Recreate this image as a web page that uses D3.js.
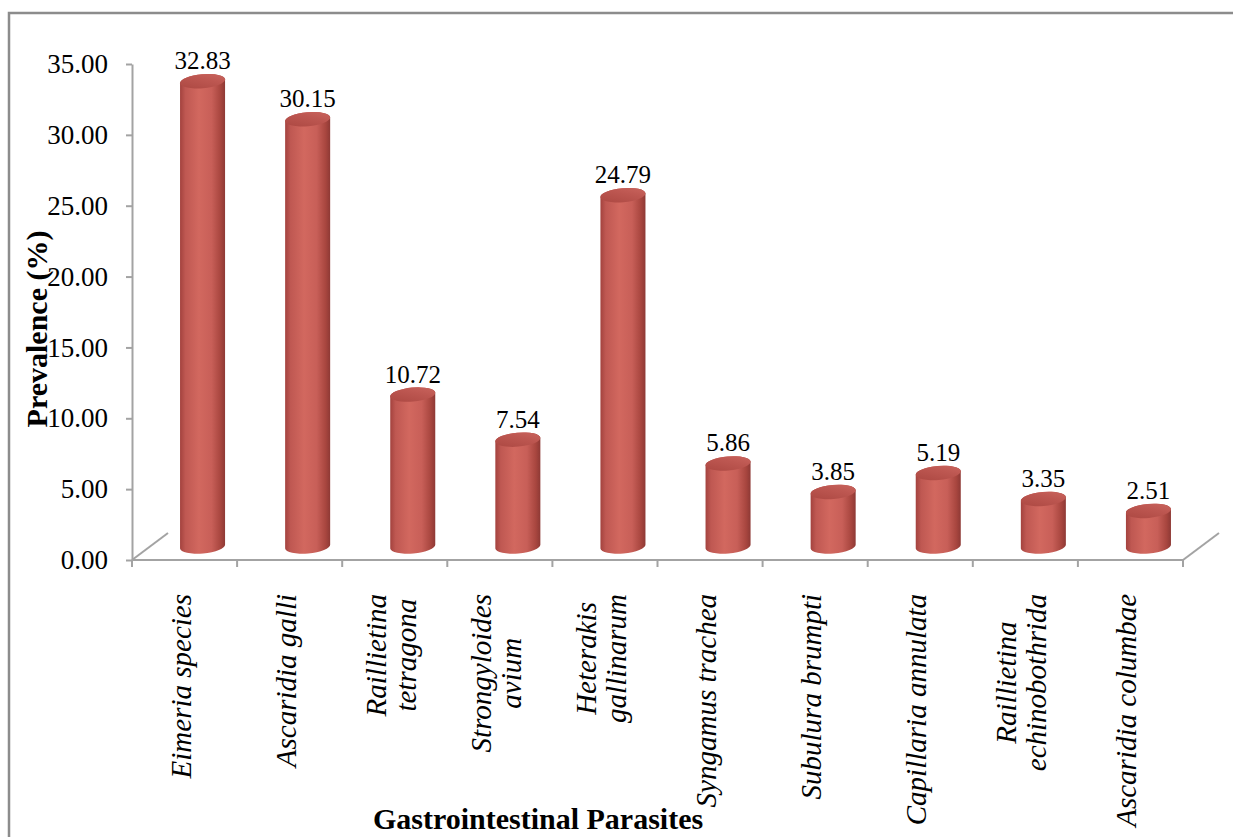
<!DOCTYPE html>
<html>
<head>
<meta charset="utf-8">
<script src="https://cdn.jsdelivr.net/npm/d3@7"></script>
<style>
  body { margin: 0; background: #fff; }
  svg { display: block; }
  text { font-family: 'Times New Roman', 'Liberation Serif', serif; }
</style>
</head>
<body>
<div id="chart"></div>
<script>
const categories = [
  'Eimeria species',
  'Ascaridia galli',
  'Raillietina tetragona',
  'Strongyloides avium',
  'Heterakis gallinarum',
  'Syngamus trachea',
  'Subulura brumpti',
  'Capillaria annulata',
  'Raillietina echinobothrida',
  'Ascaridia columbae'
];
// how each category name is broken over lines under the axis
const labelLines = [
  ['Eimeria species'],
  ['Ascaridia galli'],
  ['Raillietina', 'tetragona'],
  ['Strongyloides', 'avium'],
  ['Heterakis', 'gallinarum'],
  ['Syngamus trachea'],
  ['Subulura brumpti'],
  ['Capillaria annulata'],
  ['Raillietina', 'echinobothrida'],
  ['Ascaridia columbae']
];
const prevalence = [32.83, 30.15, 10.72, 7.54, 24.79, 5.86, 3.85, 5.19, 3.35, 2.51];
const yTicks = [0, 5, 10, 15, 20, 25, 30, 35];

const W = 1233, H = 837;
const svg = d3.select('#chart').append('svg')
  .attr('width', W)
  .attr('height', H);

// frame
svg.append('rect')
  .attr('x', 9).attr('y', 13)
  .attr('width', 1400).attr('height', 1000)
  .attr('fill', 'none')
  .attr('stroke', '#8c8c8c')
  .attr('stroke-width', 2.5);

// scales (front plane of the 3D box)
const x = d3.scaleBand().domain(categories).range([132, 1183]).padding(0);
const y = d3.scaleLinear().domain([0, 35]).range([560, 64]);

// depth of the floor, bars sit at half depth
const depthX = 36, depthY = -27;
const offX = depthX / 2, offY = depthY / 2;

const defs = svg.append('defs');
const bodyGrad = defs.append('linearGradient')
  .attr('id', 'barBody')
  .attr('x1', 0).attr('x2', 1).attr('y1', 0).attr('y2', 0);
[[0, '#a3423e'], [0.12, '#bf5852'], [0.42, '#d2685f'], [0.7, '#c85f58'], [0.9, '#a8463f'], [1, '#8e3935']]
  .forEach(s => bodyGrad.append('stop').attr('offset', s[0]).attr('stop-color', s[1]));
const topGrad = defs.append('linearGradient')
  .attr('id', 'barTop')
  .attr('x1', 0).attr('x2', 1).attr('y1', 1).attr('y2', 0);
[[0, '#ab4741'], [0.6, '#bd5751'], [1, '#cb665f']]
  .forEach(s => topGrad.append('stop').attr('offset', s[0]).attr('stop-color', s[1]));

// floor and axis lines
const axisColor = '#a3a3a3';
const floor = svg.append('g')
  .attr('stroke', axisColor)
  .attr('stroke-width', 2)
  .attr('fill', 'none');
floor.append('line')
  .attr('x1', x.range()[0]).attr('y1', y(0))
  .attr('x2', x.range()[0] + depthX).attr('y2', y(0) + depthY);
floor.append('line')
  .attr('x1', x.range()[1]).attr('y1', y(0))
  .attr('x2', x.range()[1] + depthX).attr('y2', y(0) + depthY);
floor.append('line')
  .attr('x1', x.range()[0]).attr('y1', y(0))
  .attr('x2', x.range()[1]).attr('y2', y(0));

// category boundary ticks
const bounds = categories.map(c => x(c)).concat([x.range()[1]]);
floor.selectAll('.xtick')
  .data(bounds)
  .enter()
  .append('line')
  .attr('x1', d => d).attr('x2', d => d)
  .attr('y1', y(0)).attr('y2', y(0) + 7);

// y axis
const yAxis = svg.append('g')
  .attr('transform', `translate(${x.range()[0]},0)`)
  .call(d3.axisLeft(y)
    .tickValues(yTicks)
    .tickFormat(d3.format('.2f'))
    .tickSize(6)
    .tickSizeOuter(0)
    .tickPadding(18));
yAxis.select('.domain').attr('stroke', axisColor).attr('stroke-width', 2);
yAxis.selectAll('.tick line').attr('stroke', axisColor).attr('stroke-width', 2);
yAxis.selectAll('.tick text')
  .attr('fill', '#000')
  .style('font-size', '27px')
  .style('font-family', "'Times New Roman', 'Liberation Serif', serif");

// cylinders
const rx = x.bandwidth() * 0.215, ry = 7, tilt = -5;
const cosT = Math.cos(tilt * Math.PI / 180), sinT = Math.sin(tilt * Math.PI / 180);

function cylinderPath(cx, yTop, yBot) {
  const lx = cx - rx * cosT, rxp = cx + rx * cosT;
  const ly = -rx * sinT, ryp = rx * sinT;
  return `M${lx},${yTop + ly} L${lx},${yBot + ly} ` +
    `A${rx},${ry} ${tilt} 0 0 ${rxp},${yBot + ryp} ` +
    `L${rxp},${yTop + ryp} ` +
    `A${rx},${ry} ${tilt} 0 0 ${lx},${yTop + ly} Z`;
}

const bars = svg.append('g')
  .selectAll('g')
  .data(categories.map((c, i) => ({ cat: c, value: prevalence[i] })))
  .enter()
  .append('g');

bars.append('path')
  .attr('d', d => cylinderPath(
    x(d.cat) + x.bandwidth() / 2 + offX,
    y(d.value) + offY,
    y(0) + offY))
  .attr('fill', 'url(#barBody)');

bars.append('ellipse')
  .attr('cx', 0).attr('cy', 0)
  .attr('rx', rx).attr('ry', ry)
  .attr('transform', d =>
    `translate(${x(d.cat) + x.bandwidth() / 2 + offX},${y(d.value) + offY}) rotate(${tilt})`)
  .attr('fill', 'url(#barTop)');

// value labels
bars.append('text')
  .attr('x', d => x(d.cat) + x.bandwidth() / 2 + offX)
  .attr('y', d => y(d.value) + offY - ry - 5)
  .attr('text-anchor', 'middle')
  .style('font-size', '25px')
  .attr('fill', '#000')
  .text(d => d.value.toFixed(2));

// category labels, rotated, top of each block at labelTop
const labelTop = 594, lineGap = 30;
labelLines.forEach((lines, i) => {
  const cx = x(categories[i]) + x.bandwidth() / 2 + 6;
  const g = svg.append('g');
  const texts = lines.map((t, j) => g.append('text')
    .attr('text-anchor', 'middle')
    .style('font-size', '29px')
    .style('font-style', 'italic')
    .attr('fill', '#000')
    .text(t));
  const maxLen = d3.max(texts, t => t.node().getComputedTextLength());
  const cy = labelTop + maxLen / 2;
  texts.forEach((t, j) => {
    const bx = cx + (j - (lines.length - 1) / 2) * lineGap;
    t.attr('transform', `translate(${bx},${cy}) rotate(-90)`);
  });
});

// axis titles
svg.append('text')
  .attr('transform', 'translate(47,329) rotate(-90)')
  .attr('text-anchor', 'middle')
  .style('font-size', '30px')
  .style('font-weight', 'bold')
  .text('Prevalence (%)');

svg.append('text')
  .attr('x', 538)
  .attr('y', 829)
  .attr('text-anchor', 'middle')
  .style('font-size', '30px')
  .style('font-weight', 'bold')
  .text('Gastrointestinal Parasites');
</script>
</body>
</html>
